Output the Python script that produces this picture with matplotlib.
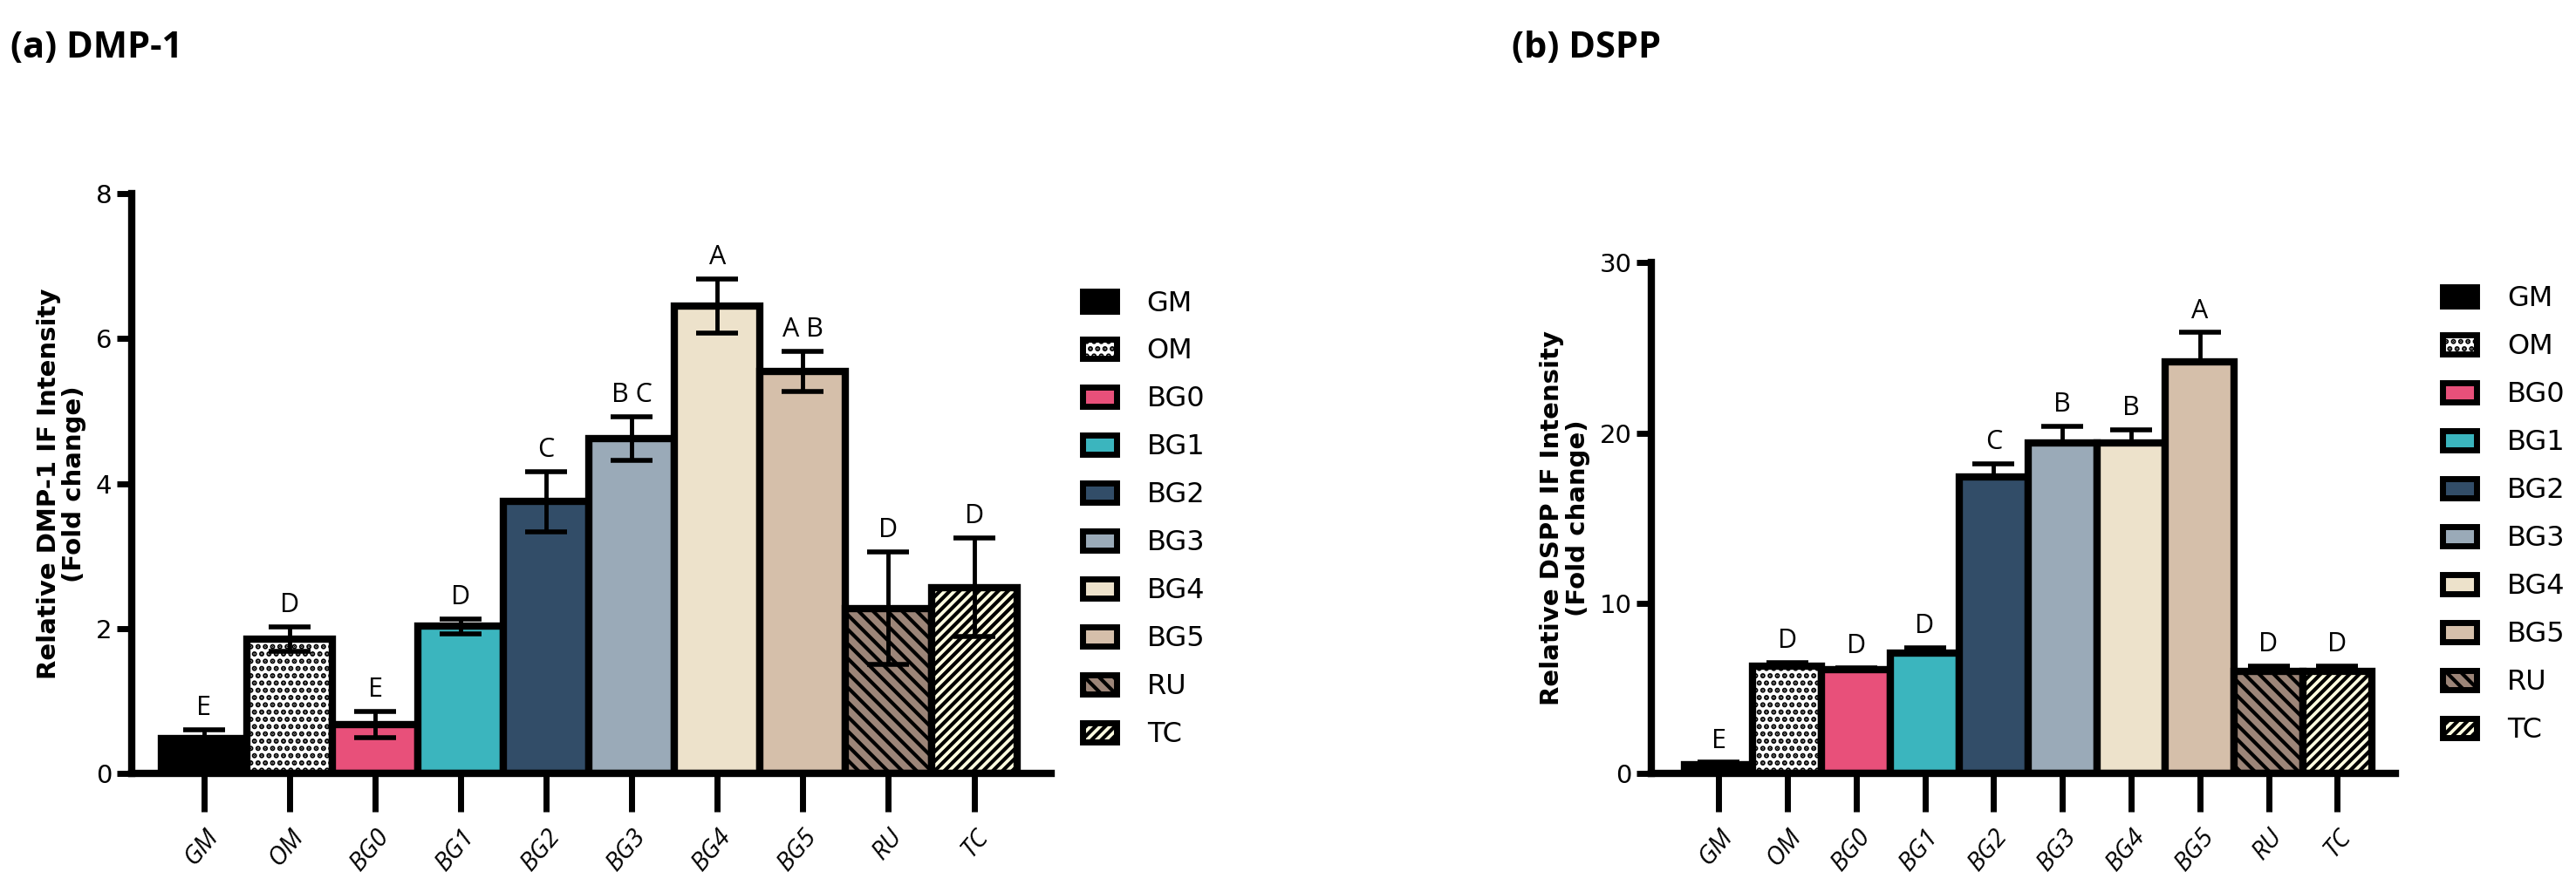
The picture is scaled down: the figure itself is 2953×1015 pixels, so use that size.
import matplotlib
matplotlib.use('Agg')
import matplotlib.pyplot as plt
from matplotlib.patches import Patch

groups = ['GM', 'OM', 'BG0', 'BG1', 'BG2', 'BG3', 'BG4', 'BG5', 'RU', 'TC']
colors = ['#000000', '#ffffff', '#e8507a', '#3bb5be', '#324d68', '#9aaab8',
          '#ede2cb', '#d5bfaa', '#9c8578', '#fffde0']
hatches = [None, '..', None, None, None, None, None, None, '\\\\', '///']

dmp_mean = [0.48, 1.85, 0.68, 2.03, 3.75, 4.62, 6.45, 5.55, 2.28, 2.57]
dmp_err = [0.12, 0.17, 0.18, 0.10, 0.42, 0.30, 0.37, 0.28, 0.78, 0.68]
dmp_letters = ['E', 'D', 'E', 'D', 'C', 'B C', 'A', 'A B', 'D', 'D']

dspp_mean = [0.5, 6.3, 6.1, 7.1, 17.4, 19.4, 19.4, 24.2, 6.0, 6.0]
dspp_err = [0.15, 0.2, 0.1, 0.3, 0.8, 1.0, 0.8, 1.7, 0.3, 0.3]
dspp_letters = ['E', 'D', 'D', 'D', 'C', 'B', 'B', 'A', 'D', 'D']

plt.rcParams['hatch.linewidth'] = 3.0
fig = plt.figure(figsize=(29.53, 10.15), dpi=100)


def panel(rect, mean, err, letters, ymax, step, ylabel, both, off, xlim, leg_x, leg_y):
    ax = fig.add_axes(rect)
    x = range(len(groups))
    bars = ax.bar(x, mean, width=1.0, color=colors, edgecolor='black', linewidth=6, zorder=2)
    for b, h in zip(bars, hatches):
        if h:
            b.set_hatch(h)
    yerr = err if both else [[0] * len(err), err]
    ax.errorbar(x, mean, yerr=yerr, fmt='none', ecolor='black', elinewidth=3.5,
                capsize=17, capthick=4, zorder=3)
    for i, (m, e, t) in enumerate(zip(mean, err, letters)):
        ax.text(i, m + e + off, t, ha='center', va='bottom', fontsize=22, family='Open Sans')
    ax.set_xlim(*xlim)
    ax.set_ylim(0, ymax)
    ax.set_yticks(range(0, ymax + 1, step))
    ax.set_xticks(list(x))
    ax.set_xticklabels(groups, rotation=50, ha='right', rotation_mode='anchor',
                       fontsize=21, fontstyle='italic', family='Open Sans')
    ax.tick_params(axis='x', length=32, width=5, pad=10)
    ax.tick_params(axis='y', length=12, width=5, labelsize=21, pad=4)
    for s in ['top', 'right']:
        ax.spines[s].set_visible(False)
    for s in ['left', 'bottom']:
        ax.spines[s].set_linewidth(6)
    ax.set_ylabel(ylabel, fontsize=21, fontweight='bold', linespacing=1.05, labelpad=8)
    handles = [Patch(facecolor=c, edgecolor='black', hatch=h, linewidth=5)
               for c, h in zip(colors, hatches)]
    fig.legend(handles, groups, loc='upper left', bbox_to_anchor=(leg_x, leg_y),
               frameon=False, fontsize=23, labelspacing=0.75, handlelength=1.2,
               handleheight=0.7, handletextpad=1.1, borderaxespad=0)
    return ax


panel([0.051, 0.126, 0.357, 0.655], dmp_mean, dmp_err, dmp_letters, 8, 2,
      'Relative DMP-1 IF Intensity\n(Fold change)', True, 0.12, (-0.85, 9.9), 0.416, 0.685)
panel([0.641, 0.126, 0.289, 0.577], dspp_mean, dspp_err, dspp_letters, 30, 10,
      'Relative DSPP IF Intensity\n(Fold change)', False, 0.5, (-0.98, 9.85), 0.944, 0.69)

fig.text(0.004, 0.945, '(a) DMP-1', fontsize=30, fontweight='bold', family='Open Sans', va='center')
fig.text(0.587, 0.945, '(b) DSPP', fontsize=30, fontweight='bold', family='Open Sans', va='center')

fig.savefig('out.png', dpi=100, facecolor='white')
